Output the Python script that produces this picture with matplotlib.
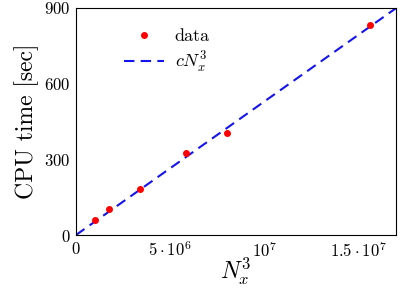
import numpy as np
import matplotlib
matplotlib.use("Agg")
import matplotlib.pyplot as plt

# grid sizes N_x and measured CPU times
nx = [100, 120, 150, 180, 200, 250]
cpu_time = [58, 104, 184, 324, 404, 831]

# fit constant for c*N_x^3
c_fit = 5.29e-5

x_ticks = [0, 5e6, 1e7, 1.5e7]
x_tick_labels = [r"$0$", r"$5\cdot10^{6}$", r"$10^{7}$", r"$1.5\cdot10^{7}$"]
y_ticks = [0, 300, 600, 900]

plt.rcParams["font.family"] = "serif"
plt.rcParams["font.serif"] = ["cmr10"]
plt.rcParams["mathtext.fontset"] = "cm"
plt.rcParams["axes.unicode_minus"] = False
plt.rcParams["axes.formatter.use_mathtext"] = True

n3 = np.array(nx, dtype=float) ** 3

fig = plt.figure(figsize=(4.05, 2.89), dpi=100)
ax = fig.add_axes([76 / 405, 1 - 235 / 289, 320 / 405, 227 / 289])

line_x = np.array([0, 1.7e7])
ax.plot(n3, cpu_time, "o", color="red", markersize=4, label="data", zorder=3)
ax.plot(line_x, c_fit * line_x, "--", color="#1414f0", lw=1.5,
        dashes=(5, 3), label=r"$cN_x^3$")

ax.set_xlim(0, 1.7e7)
ax.set_ylim(0, 900)
ax.set_xticks(x_ticks)
ax.set_xticklabels(x_tick_labels)
ax.set_yticks(y_ticks)
ax.set_yticklabels([f"${v}$" for v in y_ticks])
ax.tick_params(length=0, labelsize=12, pad=4)

ax.set_xlabel(r"$N_x^3$", fontsize=17, labelpad=-3)
ax.set_ylabel("CPU time [sec]", fontsize=17, labelpad=4)

ax.legend(loc="upper left", bbox_to_anchor=(0.1, 0.98), frameon=False,
          fontsize=13, handlelength=2.2, handletextpad=0.6,
          labelspacing=0.3, numpoints=1)

fig.savefig("out.png", dpi=100)
